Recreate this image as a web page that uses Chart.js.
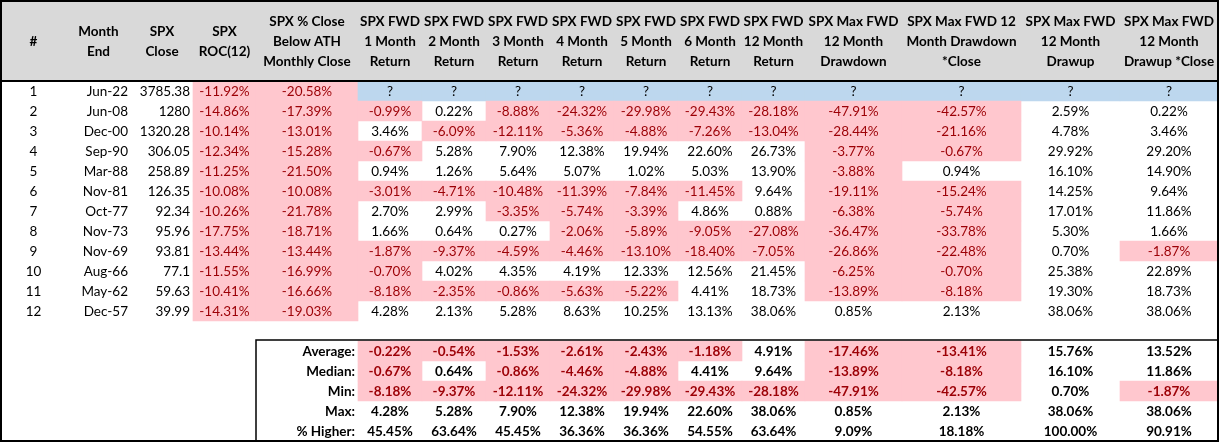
<!DOCTYPE html>
<html>
<head>
<meta charset="utf-8">
<script src="https://cdn.jsdelivr.net/npm/chart.js@4.4.1/dist/chart.umd.min.js"></script>
<style>
  html, body { margin: 0; padding: 0; background: #fff; }
  #wrap { width: 1220px; height: 442px; position: relative; }
</style>
</head>
<body>
<div id="wrap"><canvas id="table1"></canvas></div>
<script>
// En-têtes du tableau (une entrée par ligne de texte)
const headers = [
  ['#'],
  ['Month', 'End'],
  ['SPX', 'Close'],
  ['SPX', 'ROC(12)'],
  ['SPX % Close', 'Below ATH', 'Monthly Close'],
  ['SPX FWD', '1 Month', 'Return'],
  ['SPX FWD', '2 Month', 'Return'],
  ['SPX FWD', '3 Month', 'Return'],
  ['SPX FWD', '4 Month', 'Return'],
  ['SPX FWD', '5 Month', 'Return'],
  ['SPX FWD', '6 Month', 'Return'],
  ['SPX FWD', '12 Month', 'Return'],
  ['SPX Max FWD', '12 Month', 'Drawdown'],
  ['SPX Max FWD 12', 'Month Drawdown', '*Close'],
  ['SPX Max FWD', '12 Month', 'Drawup'],
  ['SPX Max FWD', '12 Month', 'Drawup *Close']
];

// Données des lignes
const rowNum = ['1', '2', '3', '4', '5', '6', '7', '8', '9', '10', '11', '12'];
const monthEnd = ['Jun-22', 'Jun-08', 'Dec-00', 'Sep-90', 'Mar-88', 'Nov-81', 'Oct-77', 'Nov-73', 'Nov-69', 'Aug-66', 'May-62', 'Dec-57'];
const spxClose = ['3785.38', '1280', '1320.28', '306.05', '258.89', '126.35', '92.34', '95.96', '93.81', '77.1', '59.63', '39.99'];
const roc12 = [-11.92, -14.86, -10.14, -12.34, -11.25, -10.08, -10.26, -17.75, -13.44, -11.55, -10.41, -14.31];
const belowAth = [-20.58, -17.39, -13.01, -15.28, -21.50, -10.08, -21.78, -18.71, -13.44, -16.99, -16.66, -19.03];
// null = pas encore connu ("?")
const fwd1m = [null, -0.99, 3.46, -0.67, 0.94, -3.01, 2.70, 1.66, -1.87, -0.70, -8.18, 4.28];
const fwd2m = [null, 0.22, -6.09, 5.28, 1.26, -4.71, 2.99, 0.64, -9.37, 4.02, -2.35, 2.13];
const fwd3m = [null, -8.88, -12.11, 7.90, 5.64, -10.48, -3.35, 0.27, -4.59, 4.35, -0.86, 5.28];
const fwd4m = [null, -24.32, -5.36, 12.38, 5.07, -11.39, -5.74, -2.06, -4.46, 4.19, -5.63, 8.63];
const fwd5m = [null, -29.98, -4.88, 19.94, 1.02, -7.84, -3.39, -5.89, -13.10, 12.33, -5.22, 10.25];
const fwd6m = [null, -29.43, -7.26, 22.60, 5.03, -11.45, 4.86, -9.05, -18.40, 12.56, 4.41, 13.13];
const fwd12m = [null, -28.18, -13.04, 26.73, 13.90, 9.64, 0.88, -27.08, -7.05, 21.45, 18.73, 38.06];
const maxDd = [null, -47.91, -28.44, -3.77, -3.88, -19.11, -6.38, -36.47, -26.86, -6.25, -13.89, 0.85];
const maxDdClose = [null, -42.57, -21.16, -0.67, 0.94, -15.24, -5.74, -33.78, -22.48, -0.70, -8.18, 2.13];
const maxDu = [null, 2.59, 4.78, 29.92, 16.10, 14.25, 17.01, 5.30, 0.70, 25.38, 19.30, 38.06];
const maxDuClose = [null, 0.22, 3.46, 29.20, 14.90, 9.64, 11.86, 1.66, -1.87, 22.89, 18.73, 38.06];

// Lignes de synthèse (colonnes 1 Month -> Drawup *Close)
const summaryLabels = ['Average:', 'Median:', 'Min:', 'Max:', '% Higher:'];
const avgRow = [-0.22, -0.54, -1.53, -2.61, -2.43, -1.18, 4.91, -17.46, -13.41, 15.76, 13.52];
const medianRow = [-0.67, 0.64, -0.86, -4.46, -4.88, 4.41, 9.64, -13.89, -8.18, 16.10, 11.86];
const minRow = [-8.18, -9.37, -12.11, -24.32, -29.98, -29.43, -28.18, -47.91, -42.57, 0.70, -1.87];
const maxRow = [4.28, 5.28, 7.90, 12.38, 19.94, 22.60, 38.06, 0.85, 2.13, 38.06, 38.06];
const higherRow = [45.45, 63.64, 45.45, 36.36, 36.36, 54.55, 63.64, 9.09, 18.18, 100.00, 90.91];

// Mise en page
const colWidths = [65, 65, 62, 63, 102, 64, 64, 64, 64, 64, 64, 63, 97, 119, 99, 98];
const colEdges = [0];
colWidths.forEach(w => colEdges.push(colEdges[colEdges.length - 1] + w));
const TOTAL_W = colEdges[colEdges.length - 1];
const HEAD = 4;              // hauteur de l'en-tête en lignes
const SUM_TOP = HEAD + 13;   // début du bloc de synthèse
const N_ROWS = SUM_TOP + 5;

const PINK = '#ffc7ce';
const RED = '#9c0006';
const BLUE = '#bdd7ee';
const GREY = '#d9d9d9';
const FONT = 'Lato, "Open Sans", sans-serif';

const pctCols = [roc12, belowAth, fwd1m, fwd2m, fwd3m, fwd4m, fwd5m, fwd6m, fwd12m, maxDd, maxDdClose, maxDu, maxDuClose];
const summaryRows = [avgRow, medianRow, minRow, maxRow, higherRow];

function fmt(v) {
  return v === null ? '?' : v.toFixed(2) + '%';
}

// Cellules colorées -> barres flottantes
const cellBars = [];
for (let r = 0; r < rowNum.length; r++) {
  for (let c = 0; c < pctCols.length; c++) {
    const v = pctCols[c][r];
    if (v === null || v < 0) {
      cellBars.push({ y: HEAD + r + 0.5, x: [colEdges[c + 3], colEdges[c + 4]], kind: v === null ? 'blue' : 'pink' });
    }
  }
}
for (let s = 0; s < summaryRows.length; s++) {
  for (let c = 0; c < summaryRows[s].length; c++) {
    if (summaryRows[s][c] < 0) {
      cellBars.push({ y: SUM_TOP + s + 0.5, x: [colEdges[c + 5], colEdges[c + 6]], kind: 'pink' });
    }
  }
}

// Textes + bordures
const tablePlugin = {
  id: 'tablePlugin',
  beforeDatasetsDraw(chart) {
    const { ctx, scales: { x, y } } = chart;
    ctx.save();
    ctx.fillStyle = GREY;
    ctx.fillRect(x.getPixelForValue(0), y.getPixelForValue(0),
      x.getPixelForValue(TOTAL_W) - x.getPixelForValue(0), y.getPixelForValue(HEAD) - y.getPixelForValue(0));
    ctx.restore();
  },
  afterDatasetsDraw(chart) {
    const { ctx, scales: { x, y } } = chart;
    ctx.save();
    ctx.textBaseline = 'middle';

    const put = (txt, c, yv, align, color) => {
      ctx.fillStyle = color;
      ctx.textAlign = align;
      let px;
      if (align === 'center') px = x.getPixelForValue((colEdges[c] + colEdges[c + 1]) / 2);
      else px = x.getPixelForValue(colEdges[c + 1]) - 3;
      ctx.fillText(txt, px, y.getPixelForValue(yv));
    };

    // en-tête
    ctx.font = 'bold 13.5px ' + FONT;
    headers.forEach((lines, c) => {
      lines.forEach((t, k) => {
        put(t, c, 2.05 + k - (lines.length - 1) / 2, 'center', '#000');
      });
    });

    // lignes
    ctx.font = '13.5px ' + FONT;
    for (let r = 0; r < rowNum.length; r++) {
      const yv = HEAD + r + 0.55;
      put(rowNum[r], 0, yv, 'center', '#000');
      put(monthEnd[r], 1, yv, 'right', '#000');
      put(spxClose[r], 2, yv, 'right', '#000');
      pctCols.forEach((col, c) => {
        const v = col[r];
        put(fmt(v), c + 3, yv, 'center', v !== null && v < 0 ? RED : '#000');
      });
    }

    // synthèse
    ctx.font = 'bold 13.5px ' + FONT;
    summaryRows.forEach((row, s) => {
      const yv = SUM_TOP + s + 0.55;
      put(summaryLabels[s], 4, yv, 'right', '#000');
      row.forEach((v, c) => put(fmt(v), c + 5, yv, 'center', v < 0 ? RED : '#000'));
    });

    // bordures
    ctx.strokeStyle = '#000';
    ctx.lineWidth = 2;
    ctx.strokeRect(x.getPixelForValue(0), y.getPixelForValue(0),
      x.getPixelForValue(TOTAL_W) - x.getPixelForValue(0), y.getPixelForValue(N_ROWS) - y.getPixelForValue(0));
    ctx.beginPath();
    ctx.moveTo(x.getPixelForValue(0), y.getPixelForValue(HEAD));
    ctx.lineTo(x.getPixelForValue(TOTAL_W), y.getPixelForValue(HEAD));
    ctx.stroke();
    ctx.lineWidth = 1.5;
    ctx.beginPath();
    ctx.moveTo(x.getPixelForValue(colEdges[4]), y.getPixelForValue(N_ROWS));
    ctx.lineTo(x.getPixelForValue(colEdges[4]), y.getPixelForValue(SUM_TOP - 0.05));
    ctx.lineTo(x.getPixelForValue(TOTAL_W), y.getPixelForValue(SUM_TOP - 0.05));
    ctx.stroke();
    ctx.restore();
  }
};

const config = {
  type: 'bar',
  data: {
    datasets: [{
      data: cellBars,
      backgroundColor: c => (c.raw && c.raw.kind === 'blue') ? BLUE : PINK,
      borderWidth: 0,
      grouped: false,
      categoryPercentage: 1,
      barPercentage: 1
    }]
  },
  options: {
    indexAxis: 'y',
    responsive: true,
    maintainAspectRatio: false,
    animation: false,
    layout: { padding: 0 },
    plugins: { legend: { display: false }, tooltip: { enabled: false } },
    scales: {
      x: { type: 'linear', min: -1, max: 1219, offset: false, display: false },
      y: { type: 'linear', min: -0.05, max: N_ROWS + 0.05, reverse: true, offset: false, display: false }
    }
  },
  plugins: [tablePlugin]
};

document.fonts.load('13px Lato').then(() => document.fonts.load('bold 13px Lato')).finally(() => {
  new Chart(document.getElementById('table1'), config);
});
</script>
</body>
</html>
